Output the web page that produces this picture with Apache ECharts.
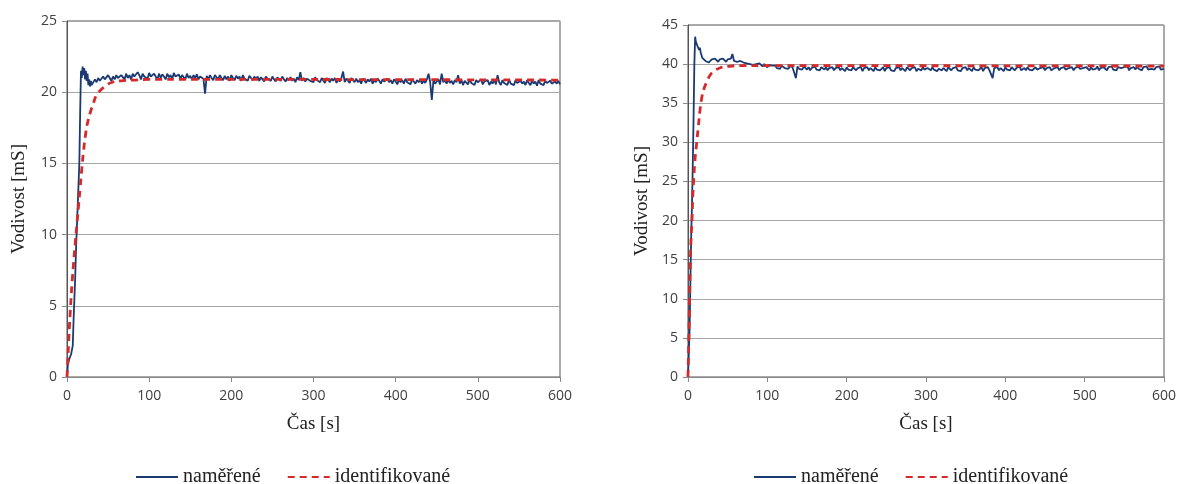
<!DOCTYPE html>
<html>
<head>
<meta charset="utf-8">
<script src="https://cdn.jsdelivr.net/npm/echarts@6/dist/echarts.min.js"></script>
<style>
html,body{margin:0;padding:0;background:#fff;}
#c{width:1184px;height:484px;}
</style>
</head>
<body>
<div id="c"></div>
<script>
// ---------- data ----------
const seriesNames = ['naměřené', 'identifikované'];
const xTitle = 'Čas [s]';
const yTitle = 'Vodivost [mS]';

// Left chart – measured (early samples, 1 s)
const leftEarlyTime = [0,1,2,3,4,5,6,7,8,9,10,11,12,13,14,15,16,17,18,19,20,21,22,23,24,25,26,27,28,29,30];
const leftEarlyMeasured = [0,0.8,1.1,1.3,1.4,1.6,1.9,2.2,4.0,5.5,7.0,9.0,10.5,12.0,13.5,15.0,18.5,21.5,21.0,21.8,21.2,21.7,20.9,21.5,20.8,21.3,20.5,20.9,20.4,20.8,20.5];
// Left chart – measured (from 32 s, every 2 s)
const leftLateStart = 32, leftLateStep = 2;
const leftLateMeasured = [
20.6,20.9,20.7,21.0,20.8,20.7,21.1,20.9,20.8,21.2,21.0,20.8,21.1,20.9,21.2,21.0,20.9,21.2,21.1,20.9,
21.3,21.0,21.2,20.9,21.3,21.1,21.0,21.4,21.2,20.9,21.3,21.1,21.2,20.95,21.35,21.1,21.0,21.3,21.2,20.9,
21.3,21.0,21.25,21.1,20.9,21.3,21.05,21.2,20.9,21.35,21.1,21.0,21.25,20.95,21.2,21.1,20.9,21.3,21.0,21.15,
20.9,21.2,21.0,21.25,20.9,21.1,21.2,20.95,19.9,21.15,20.9,21.2,21.0,20.85,21.2,21.05,20.9,21.2,21.0,20.85,
21.15,20.9,21.1,20.8,21.2,21.0,20.85,21.15,20.95,21.1,20.8,21.2,20.95,21.05,20.8,21.15,21.0,20.85,21.1,20.9,
21.1,20.8,21.05,20.9,20.75,21.1,20.95,21.0,20.8,21.1,20.9,20.75,21.05,20.95,20.8,21.1,20.9,20.75,21.0,20.85,
21.05,20.8,20.95,20.7,21.05,20.85,21.4,20.8,21.0,20.75,20.95,21.05,20.8,20.9,20.7,21.05,20.85,20.95,20.7,21.0,
20.8,20.65,21.0,20.85,20.7,20.95,20.8,21.0,20.65,20.9,20.75,21.0,21.45,20.7,20.95,20.8,20.65,21.0,20.85,20.7,
20.95,20.7,20.85,20.6,20.95,20.8,20.65,20.9,20.75,20.95,20.6,20.85,20.7,20.95,20.8,20.6,20.9,20.75,20.65,20.95,
20.7,20.85,20.6,20.9,20.75,20.55,20.9,20.7,20.85,20.6,20.95,20.7,20.8,20.55,20.9,20.75,20.6,20.85,20.7,20.9,
20.6,20.8,20.65,20.9,21.3,20.7,19.45,20.85,20.6,20.75,20.9,20.55,21.3,20.7,20.85,20.6,20.9,20.65,20.8,20.55,
20.85,20.7,21.2,20.6,20.85,20.5,20.8,20.7,20.55,20.9,20.65,20.75,20.5,20.85,20.7,20.6,20.9,20.55,20.75,20.65,
20.85,20.5,20.75,20.6,20.9,20.55,21.2,20.7,20.5,20.85,20.65,20.75,20.5,20.9,20.6,20.7,20.5,20.85,20.65,20.55,
20.8,20.6,20.75,20.5,20.85,20.65,20.5,20.8,20.6,20.75,20.45,20.85,20.6,20.7,20.5,20.8,20.65,20.55,20.8,20.6,
20.5,20.75,20.6,20.8,20.55];
// Left chart – identified model
const leftIdentTime = [0,1,2,3,4,5,6,8,10,12,14,16,18,20,23,26,29,32,36,42,48,55,65,80,100,150,600];
const leftIdent = [0,1.2,2.5,3.6,4.6,5.6,6.5,8.0,9.4,10.7,12.0,13.3,14.6,15.8,17.2,18.1,18.7,19.2,19.8,20.2,20.5,20.7,20.8,20.85,20.9,20.9,20.85];

// Right chart – measured (early samples)
const rightEarlyTime = [0,1,2,3,4,5,6,7,8,9,10,11,12,13,14,15,16,17,18,19,20,22,24,26];
const rightEarlyMeasured = [0,3,6,12,18,22,27,33,40,43.5,42.8,43.0,42.3,42.5,41.8,42.1,41.5,41.3,40.8,41.0,40.6,40.4,40.5,40.2];
// Right chart – measured (from 28 s, every 2 s)
const rightLateStart = 28, rightLateStep = 2;
const rightLateMeasured = [
40.3,40.6,40.4,40.7,40.5,40.3,40.6,40.4,40.7,40.5,40.3,40.6,40.5,40.7,41.3,40.4,40.6,40.3,40.5,40.4,
40.5,40.2,40.4,40.1,40.3,40.0,40.2,39.9,40.1,40.0,39.8,40.1,39.9,39.7,40.0,39.8,39.6,39.9,39.7,39.8,
39.6,39.8,39.5,39.7,39.4,39.8,39.6,39.5,39.7,39.4,39.6,39.8,39.5,39.6,38.2,39.7,39.4,39.6,39.3,39.7,
39.5,39.3,39.6,39.2,39.5,39.4,39.7,39.3,39.5,39.2,39.6,39.4,39.3,39.6,39.2,39.5,39.4,39.6,39.2,39.5,
39.3,39.6,39.2,39.5,39.4,39.1,39.6,39.3,39.5,39.2,39.6,39.4,39.2,39.5,39.3,39.6,39.1,39.5,39.3,39.6,
39.2,39.5,39.4,39.1,39.6,39.3,39.5,39.2,39.4,39.6,39.1,39.5,39.3,39.6,39.2,39.4,39.1,39.5,39.3,39.6,
39.2,39.5,39.3,39.1,39.6,39.4,39.2,39.5,39.3,39.6,39.1,39.4,39.5,39.2,39.6,39.3,39.1,39.5,39.4,39.2,
39.6,39.3,39.5,39.1,39.4,39.6,39.2,39.5,39.3,39.1,39.6,39.4,39.2,39.5,39.3,39.6,39.2,39.4,39.1,39.5,
39.3,39.6,39.2,39.5,39.4,39.1,39.6,39.3,39.5,39.2,39.4,39.6,39.1,39.5,39.3,39.6,39.2,39.4,38.2,39.5,
39.3,39.6,39.2,39.5,39.4,39.1,39.6,39.3,39.5,39.2,39.6,39.4,39.2,39.5,39.3,39.7,39.2,39.4,39.5,39.2,
39.6,39.3,39.5,39.2,39.4,39.6,39.3,39.1,39.5,39.4,39.6,39.2,39.5,39.3,39.6,39.2,39.4,39.5,39.3,39.6,
39.2,39.5,39.4,39.6,39.3,39.1,39.5,39.4,39.6,39.2,39.5,39.3,39.7,39.4,39.2,39.5,39.3,39.6,39.4,39.2,
39.6,39.3,39.5,39.4,39.7,39.2,39.5,39.3,39.6,39.4,39.2,39.6,39.4,39.7,39.3,39.5,39.2,39.6,39.4,39.5,
39.3,39.6,39.4,39.7,39.2,39.5,39.4,39.6,39.3,39.7,39.4,39.5,39.2,39.6,39.4,39.7,39.3,39.5,39.4,39.6,
39.3,39.6,39.4,39.7,39.3,39.5,39.4];
// Right chart – identified model
const rightIdentTime = [0,1,2,3,4,5,6,7,9,11,13,15,17,20,24,28,33,40,50,65,100,600];
const rightIdent = [0,5,10,15,18,20,23,25,28,30,32,34,35.5,36.8,37.8,38.6,39.1,39.5,39.7,39.8,39.8,39.75];

// ---------- build ----------
function pairs(t, v){ return t.map((x,i)=>[x, v[i]]); }
function lateTimes(start, step, n){ const a=[]; for(let i=0;i<n;i++) a.push(start+i*step); return a; }
const leftMeasured = pairs(leftEarlyTime, leftEarlyMeasured)
  .concat(pairs(lateTimes(leftLateStart, leftLateStep, leftLateMeasured.length), leftLateMeasured));
const rightMeasured = pairs(rightEarlyTime, rightEarlyMeasured)
  .concat(pairs(lateTimes(rightLateStart, rightLateStep, rightLateMeasured.length), rightLateMeasured));

const BLUE = '#1b3a72', RED = '#d42a2a';
const tickFont = {fontFamily:'Open Sans', fontSize:14, color:'#404040'};
const titleFont = {fontFamily:'Liberation Serif', fontSize:19, color:'#222'};

function xAx(gi){
  return {type:'value', gridIndex:gi, min:0, max:600, interval:100,
    name:xTitle, nameLocation:'middle', nameGap:38, nameTextStyle:titleFont,
    axisLine:{show:true, lineStyle:{color:'#888', width:1}},
    axisTick:{show:true, length:5, lineStyle:{color:'#888'}},
    axisLabel:Object.assign({margin:12}, tickFont),
    splitLine:{show:false}};
}
function yAx(gi, max, gap){
  return {type:'value', gridIndex:gi, min:0, max:max, interval:5,
    name:yTitle, nameLocation:'middle', nameGap:gap, nameTextStyle:titleFont,
    axisLine:{show:true, lineStyle:{color:'#555', width:1}},
    axisTick:{show:true, length:5, lineStyle:{color:'#888'}},
    axisLabel:Object.assign({margin:10}, tickFont),
    splitLine:{show:true, lineStyle:{color:'#a6a6a6', width:1}}};
}
function measured(gi, data){
  return {name:seriesNames[0], type:'line', xAxisIndex:gi, yAxisIndex:gi, data:data,
    showSymbol:false, symbol:'none', lineStyle:{color:BLUE, width:1.8}, itemStyle:{color:BLUE}, z:2};
}
function ident(gi, data){
  return {name:seriesNames[1], type:'line', xAxisIndex:gi, yAxisIndex:gi, data:data, smooth:true,
    showSymbol:false, symbol:'none', lineStyle:{color:RED, width:2.8, type:[7,5]}, itemStyle:{color:RED}, z:3};
}
function legend(left){
  return {left:left, top:462, itemWidth:42, itemHeight:14, itemGap:26,
    data:seriesNames, selectedMode:false,
    itemStyle:{opacity:0, borderWidth:0},
    textStyle:{fontFamily:'Liberation Serif', fontSize:20, color:'#222'}};
}

const chart = echarts.init(document.getElementById('c'), null, {renderer:'canvas'});
chart.setOption({
  animation:false,
  backgroundColor:'#fff',
  grid:[
    {left:67, top:21, width:493, height:356, show:true, borderColor:'#555', borderWidth:1, backgroundColor:'#fff'},
    {left:688, top:25, width:476, height:352, show:true, borderColor:'#555', borderWidth:1, backgroundColor:'#fff'}
  ],
  xAxis:[xAx(0), xAx(1)],
  yAxis:[yAx(0,25,38), yAx(1,45,36)],
  legend:[legend(130), legend(748)],
  series:[
    measured(0, leftMeasured),
    ident(0, pairs(leftIdentTime, leftIdent)),
    measured(1, rightMeasured),
    ident(1, pairs(rightIdentTime, rightIdent))
  ]
});
</script>
</body>
</html>
